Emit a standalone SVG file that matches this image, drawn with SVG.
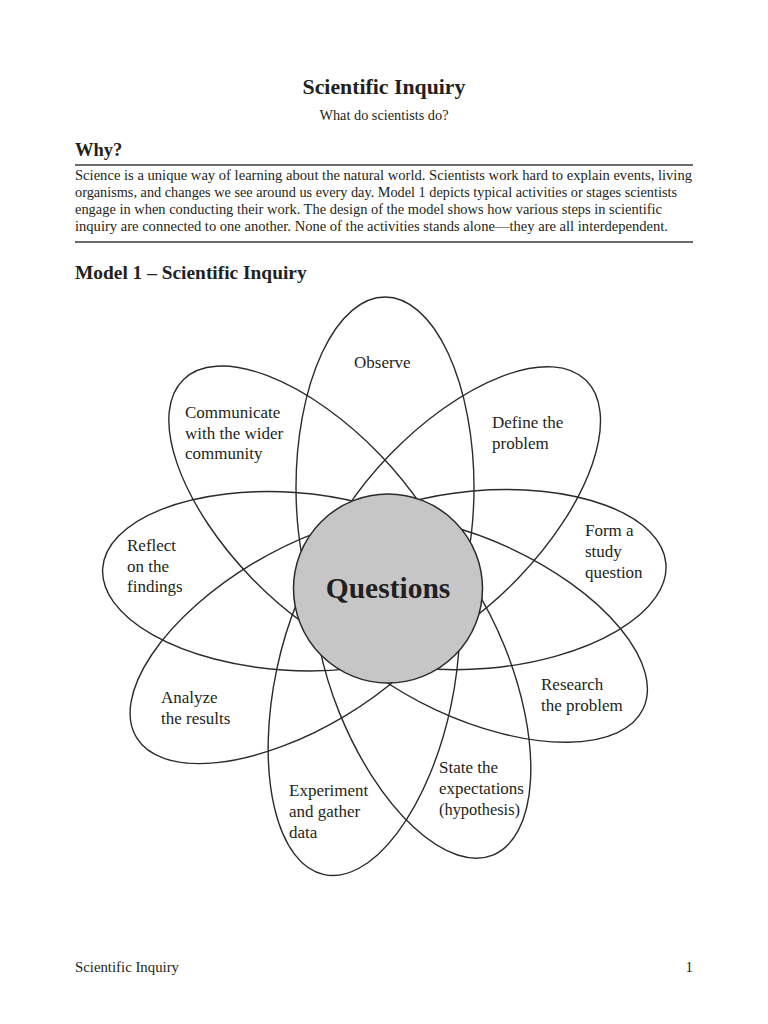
<svg xmlns="http://www.w3.org/2000/svg" width="768" height="1024" viewBox="0 0 768 1024">
<style>
text{font-family:"Liberation Serif","Times New Roman",serif;fill:#231f20}
.h{font-weight:bold}
.lab{font-size:17px}
.p{font-size:14.5px}
.petal{fill:none;stroke:#2b2b2b;stroke-width:1.4}
.rule{stroke:#3a3a3a;stroke-width:1.6}
</style>
<rect width="768" height="1024" fill="#fff"/>
<g id="header">
<text class="h" x="384" y="94" font-size="21.8" text-anchor="middle">Scientific Inquiry</text>
<text x="384" y="120" font-size="14.3" text-anchor="middle">What do scientists do?</text>
<text class="h" x="75" y="156" font-size="18.5">Why?</text>
<line class="rule" x1="75" y1="165" x2="693" y2="165"/>
<text class="p" x="75" y="180" textLength="617" lengthAdjust="spacingAndGlyphs">Science is a unique way of learning about the natural world. Scientists work hard to explain events, living</text>
<text class="p" x="75" y="197" textLength="602" lengthAdjust="spacingAndGlyphs">organisms, and changes we see around us every day. Model 1 depicts typical activities or stages scientists</text>
<text class="p" x="75" y="214" textLength="587" lengthAdjust="spacingAndGlyphs">engage in when conducting their work. The design of the model shows how various steps in scientific</text>
<text class="p" x="75" y="231" textLength="593" lengthAdjust="spacingAndGlyphs">inquiry are connected to one another. None of the activities stands alone—they are all interdependent.</text>
<line class="rule" x1="75" y1="242" x2="693" y2="242"/>
<text class="h" x="75" y="279" font-size="19.4">Model 1 – Scientific Inquiry</text>
</g>
<g id="petals">
<g id="observe"><ellipse class="petal" cx="100.5" cy="0" rx="190.5" ry="89" transform="translate(385 588) rotate(-90)"/><text class="lab" x="354" y="368">Observe</text></g>
<g id="define"><ellipse class="petal" cx="99.5" cy="0" rx="189.5" ry="89" transform="translate(385 588) rotate(-46)"/><text class="lab" x="492" y="428">Define the</text><text class="lab" x="492" y="449">problem</text></g>
<g id="form"><ellipse class="petal" cx="96" cy="0" rx="186" ry="89" transform="translate(385 588) rotate(-5)"/><text class="lab" x="585" y="536">Form a</text><text class="lab" x="585" y="557">study</text><text class="lab" x="585" y="578">question</text></g>
<g id="research"><ellipse class="petal" cx="97.5" cy="0" rx="187.5" ry="89" transform="translate(385 588) rotate(25)"/><text class="lab" x="541" y="690">Research</text><text class="lab" x="541" y="711">the problem</text></g>
<g id="state"><ellipse class="petal" cx="99" cy="0" rx="189" ry="89" transform="translate(385 588) rotate(68)"/><text class="lab" x="439" y="773">State the</text><text class="lab" x="439" y="794">expectations</text><text class="lab" x="439" y="815" textLength="81" lengthAdjust="spacingAndGlyphs">(hypothesis)</text></g>
<g id="experiment"><ellipse class="petal" cx="101.5" cy="0" rx="191.5" ry="89" transform="translate(385 588) rotate(102)"/><text class="lab" x="289" y="796">Experiment</text><text class="lab" x="289" y="817">and gather</text><text class="lab" x="289" y="838">data</text></g>
<g id="analyze"><ellipse class="petal" cx="100" cy="0" rx="190" ry="89" transform="translate(385 588) rotate(149)"/><text class="lab" x="161" y="703">Analyze</text><text class="lab" x="161" y="724">the results</text></g>
<g id="reflect"><ellipse class="petal" cx="96.5" cy="0" rx="186.5" ry="89" transform="translate(385 588) rotate(184)"/><text class="lab" x="127" y="551">Reflect</text><text class="lab" x="127" y="572">on the</text><text class="lab" x="127" y="592">findings</text></g>
<g id="communicate"><ellipse class="petal" cx="100" cy="0" rx="190" ry="89" transform="translate(385 588) rotate(-134)"/><text class="lab" x="185" y="418">Communicate</text><text class="lab" x="185" y="439">with the wider</text><text class="lab" x="185" y="459">community</text></g>
</g>
<g id="questions">
<circle cx="388" cy="588.5" r="94.5" fill="#c6c6c6" stroke="#2b2b2b" stroke-width="1.5"/>
<text class="h" x="388" y="598" font-size="29.5" text-anchor="middle">Questions</text>
</g>
<g id="footer">
<text x="75" y="972" font-size="14.8">Scientific Inquiry</text>
<text x="693" y="972" font-size="14.8" text-anchor="end">1</text>
</g>
</svg>
